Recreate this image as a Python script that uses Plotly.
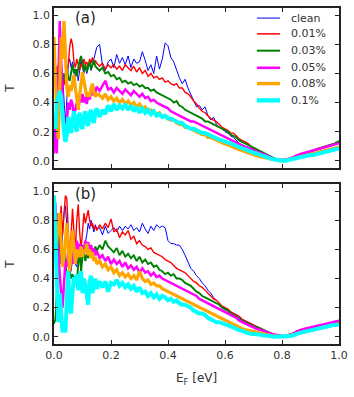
import plotly.graph_objects as go
from plotly.subplots import make_subplots

# Energy grid (eV)
E_low = [0.000, 0.005, 0.010, 0.015, 0.020, 0.025, 0.030, 0.035, 0.040, 0.045,
         0.050, 0.055, 0.060, 0.065, 0.070, 0.075, 0.080, 0.085, 0.090, 0.095,
         0.100, 0.105, 0.110, 0.115, 0.120, 0.125, 0.130, 0.135, 0.140, 0.145, 0.150]
E_high = [0.16, 0.17, 0.18, 0.19, 0.20, 0.21, 0.22, 0.23, 0.24, 0.25,
          0.26, 0.27, 0.28, 0.29, 0.30, 0.31, 0.32, 0.33, 0.34, 0.35,
          0.36, 0.37, 0.38, 0.39, 0.40, 0.41, 0.42, 0.43, 0.44, 0.45,
          0.46, 0.47, 0.48, 0.49, 0.50, 0.51, 0.52, 0.53, 0.54, 0.55,
          0.56, 0.57, 0.58, 0.59, 0.60, 0.61, 0.62, 0.63, 0.64, 0.65,
          0.66, 0.67, 0.68, 0.69, 0.70, 0.71, 0.72, 0.73, 0.74, 0.75,
          0.76, 0.77, 0.78, 0.79, 0.80, 0.81, 0.82, 0.83, 0.84, 0.85,
          0.86, 0.87, 0.88, 0.89, 0.90, 0.91, 0.92, 0.93, 0.94, 0.95,
          0.96, 0.97, 0.98, 0.99, 1.00]
E = E_low + E_high

series_names = ["clean", "0.01%", "0.03%", "0.05%", "0.08%", "0.1%"]

# ---------------- panel (a) ----------------
a_clean = [0.55, 0.62, 0.48, 0.66, 0.58, 0.45, 0.60, 0.40, 0.25, 0.42,
           0.66, 0.70, 0.64, 0.68, 0.62, 0.58, 0.63, 0.55, 0.62, 0.70,
           0.64, 0.60, 0.66, 0.60, 0.64, 0.68, 0.62, 0.66, 0.70, 0.74, 0.78,
           0.80, 0.66, 0.62, 0.68, 0.70, 0.64, 0.73, 0.67, 0.71, 0.66,
           0.72, 0.64, 0.70, 0.67, 0.68, 0.75, 0.69, 0.62, 0.66, 0.60,
           0.72, 0.63, 0.70, 0.81, 0.79, 0.71, 0.68, 0.62, 0.57, 0.53,
           0.56, 0.50, 0.46, 0.41, 0.37, 0.38, 0.35, 0.37, 0.31, 0.28,
           0.30, 0.25, 0.23, 0.22, 0.20, 0.19, 0.17, 0.16, 0.14, 0.12,
           0.11, 0.10, 0.09, 0.08, 0.07, 0.06, 0.05, 0.045, 0.035, 0.03,
           0.02, 0.01, 0.005, 0.005, 0.0, 0.005, 0.005, 0.01, 0.02, 0.03,
           0.035, 0.04, 0.05, 0.055, 0.06, 0.065, 0.075, 0.08, 0.085, 0.09,
           0.095, 0.10, 0.11, 0.115, 0.12]
a_001 = [0.60, 0.55, 0.65, 0.58, 0.62, 0.55, 0.60, 0.52, 0.58, 0.62,
         0.66, 0.78, 0.84, 0.80, 0.68, 0.64, 0.70, 0.66, 0.62, 0.67,
         0.64, 0.70, 0.66, 0.68, 0.64, 0.70, 0.67, 0.71, 0.66, 0.69, 0.67,
         0.65, 0.67, 0.63, 0.66, 0.64, 0.66, 0.63, 0.65, 0.62, 0.66,
         0.64, 0.62, 0.65, 0.61, 0.64, 0.60, 0.62, 0.58, 0.60, 0.57,
         0.58, 0.56, 0.57, 0.54, 0.55, 0.53, 0.52, 0.53, 0.50, 0.50,
         0.47, 0.46, 0.44, 0.41, 0.39, 0.36, 0.34, 0.33, 0.31, 0.29,
         0.28, 0.27, 0.25, 0.23, 0.22, 0.21, 0.19, 0.19, 0.17, 0.15,
         0.14, 0.13, 0.12, 0.10, 0.08, 0.07, 0.06, 0.05, 0.04, 0.03,
         0.025, 0.015, 0.01, 0.005, 0.005, 0.0, 0.01, 0.02, 0.025, 0.035,
         0.04, 0.045, 0.05, 0.06, 0.065, 0.07, 0.075, 0.08, 0.085, 0.09,
         0.10, 0.105, 0.11, 0.12, 0.125]
a_003 = [0.58, 0.62, 0.55, 0.60, 0.64, 0.58, 0.54, 0.60, 0.56, 0.62,
         0.57, 0.55, 0.62, 0.66, 0.60, 0.63, 0.58, 0.65, 0.69, 0.72,
         0.66, 0.62, 0.66, 0.61, 0.65, 0.68, 0.63, 0.67, 0.69, 0.65, 0.64,
         0.62, 0.64, 0.60, 0.61, 0.58, 0.59, 0.56, 0.57, 0.54, 0.55,
         0.53, 0.54, 0.52, 0.53, 0.51, 0.52, 0.50, 0.50, 0.48, 0.49,
         0.47, 0.46, 0.45, 0.44, 0.43, 0.42, 0.40, 0.41, 0.38, 0.37,
         0.35, 0.34, 0.33, 0.32, 0.31, 0.30, 0.29, 0.27, 0.27, 0.26,
         0.25, 0.24, 0.23, 0.22, 0.21, 0.20, 0.18, 0.17, 0.16, 0.14,
         0.13, 0.12, 0.11, 0.10, 0.085, 0.075, 0.065, 0.055, 0.05, 0.04,
         0.03, 0.02, 0.01, 0.005, 0.005, 0.005, 0.01, 0.015, 0.02, 0.03,
         0.04, 0.045, 0.055, 0.06, 0.065, 0.07, 0.08, 0.085, 0.09, 0.10,
         0.105, 0.11, 0.115, 0.125, 0.135]
a_005 = [0.05, 0.30, 0.05, 0.60, 0.96, 0.70, 0.40, 0.20, 0.13, 0.28,
         0.40, 0.35, 0.42, 0.39, 0.30, 0.35, 0.40, 0.35, 0.44, 0.40,
         0.46, 0.40, 0.44, 0.39, 0.45, 0.42, 0.48, 0.45, 0.50, 0.47, 0.51,
         0.48, 0.52, 0.55, 0.49, 0.50, 0.47, 0.50, 0.48, 0.46, 0.49,
         0.47, 0.45, 0.48, 0.46, 0.44, 0.46, 0.43, 0.44, 0.41, 0.42,
         0.40, 0.39, 0.38, 0.37, 0.36, 0.34, 0.33, 0.32, 0.31, 0.30,
         0.29, 0.28, 0.27, 0.27, 0.26, 0.25, 0.24, 0.23, 0.22, 0.21,
         0.20, 0.19, 0.18, 0.17, 0.16, 0.15, 0.14, 0.13, 0.12, 0.11,
         0.10, 0.095, 0.09, 0.08, 0.07, 0.06, 0.055, 0.05, 0.04, 0.03,
         0.025, 0.015, 0.01, 0.005, 0.005, 0.005, 0.01, 0.02, 0.025, 0.035,
         0.045, 0.05, 0.055, 0.06, 0.065, 0.075, 0.08, 0.085, 0.09, 0.095,
         0.10, 0.105, 0.11, 0.115, 0.12]
a_008 = [0.85, 0.55, 0.30, 0.15, 0.60, 0.85, 0.70, 0.96, 0.75, 0.50,
         0.44, 0.52, 0.48, 0.55, 0.59, 0.50, 0.42, 0.35, 0.45, 0.55,
         0.61, 0.55, 0.48, 0.44, 0.47, 0.44, 0.50, 0.53, 0.47, 0.44, 0.46,
         0.45, 0.43, 0.46, 0.42, 0.44, 0.41, 0.43, 0.40, 0.42, 0.39,
         0.41, 0.38, 0.40, 0.37, 0.39, 0.36, 0.37, 0.34, 0.35, 0.33,
         0.32, 0.33, 0.30, 0.31, 0.29, 0.28, 0.28, 0.26, 0.25, 0.25,
         0.23, 0.23, 0.22, 0.21, 0.20, 0.19, 0.18, 0.18, 0.16, 0.16,
         0.15, 0.14, 0.13, 0.12, 0.115, 0.11, 0.10, 0.09, 0.085, 0.075,
         0.07, 0.06, 0.055, 0.05, 0.04, 0.035, 0.03, 0.025, 0.02, 0.015,
         0.01, 0.005, 0.005, 0.0, 0.0, 0.0, 0.005, 0.01, 0.015, 0.02,
         0.025, 0.03, 0.035, 0.04, 0.045, 0.05, 0.055, 0.06, 0.065, 0.07,
         0.075, 0.08, 0.085, 0.09, 0.095]
a_01 = [0.30, 0.22, 0.40, 0.46, 0.48, 0.44, 0.30, 0.20, 0.13, 0.18,
        0.30, 0.22, 0.19, 0.28, 0.34, 0.24, 0.20, 0.30, 0.33, 0.24,
        0.22, 0.31, 0.34, 0.26, 0.24, 0.32, 0.35, 0.28, 0.26, 0.33, 0.36,
        0.30, 0.35, 0.32, 0.38, 0.34, 0.39, 0.35, 0.38, 0.36, 0.39,
        0.35, 0.38, 0.34, 0.37, 0.33, 0.36, 0.33, 0.35, 0.32, 0.34,
        0.31, 0.32, 0.30, 0.31, 0.29, 0.29, 0.28, 0.27, 0.26, 0.26,
        0.24, 0.23, 0.22, 0.22, 0.21, 0.20, 0.19, 0.19, 0.18, 0.17,
        0.165, 0.155, 0.145, 0.14, 0.13, 0.125, 0.12, 0.11, 0.10, 0.095,
        0.085, 0.08, 0.07, 0.06, 0.055, 0.05, 0.04, 0.035, 0.03, 0.02,
        0.015, 0.01, 0.005, 0.0, 0.0, 0.0, 0.005, 0.005, 0.01, 0.015,
        0.02, 0.025, 0.03, 0.035, 0.04, 0.04, 0.045, 0.05, 0.055, 0.06,
        0.065, 0.07, 0.075, 0.08, 0.085]

# ---------------- panel (b) ----------------
b_clean = [0.60, 0.70, 0.55, 0.80, 0.65, 0.50, 0.70, 0.85, 0.90, 0.78,
           0.60, 0.50, 0.45, 0.55, 0.62, 0.50, 0.48, 0.55, 0.60, 0.58,
           0.63, 0.60, 0.64, 0.70, 0.78, 0.74, 0.80, 0.76, 0.72, 0.77, 0.74,
           0.75, 0.70, 0.76, 0.71, 0.73, 0.75, 0.72, 0.76, 0.73, 0.76,
           0.74, 0.77, 0.73, 0.75, 0.72, 0.78, 0.74, 0.71, 0.76, 0.73,
           0.77, 0.75, 0.76, 0.75, 0.66, 0.64, 0.64, 0.63, 0.63, 0.60,
           0.56, 0.52, 0.47, 0.45, 0.42, 0.40, 0.37, 0.35, 0.32, 0.30,
           0.27, 0.25, 0.23, 0.21, 0.19, 0.18, 0.17, 0.16, 0.15, 0.13,
           0.12, 0.11, 0.10, 0.09, 0.08, 0.07, 0.06, 0.05, 0.04, 0.03,
           0.02, 0.01, 0.01, 0.005, 0.005, 0.005, 0.01, 0.01, 0.01, 0.04,
           0.045, 0.05, 0.055, 0.06, 0.065, 0.07, 0.075, 0.08, 0.085, 0.09,
           0.095, 0.10, 0.10, 0.105, 0.11]
b_001 = [0.55, 0.70, 0.85, 0.60, 0.75, 0.90, 0.70, 0.88, 0.97, 0.95,
         0.70, 0.52, 0.70, 0.88, 0.72, 0.60, 0.80, 0.91, 0.72, 0.60,
         0.72, 0.85, 0.78, 0.84, 0.87, 0.80, 0.76, 0.78, 0.74, 0.76, 0.73,
         0.77, 0.74, 0.78, 0.75, 0.81, 0.72, 0.74, 0.68, 0.72, 0.70,
         0.73, 0.67, 0.69, 0.64, 0.66, 0.63, 0.62, 0.60, 0.61, 0.58,
         0.57, 0.56, 0.55, 0.53, 0.52, 0.51, 0.49, 0.47, 0.46, 0.45,
         0.44, 0.42, 0.40, 0.38, 0.37, 0.35, 0.34, 0.32, 0.30, 0.28,
         0.26, 0.25, 0.23, 0.21, 0.20, 0.19, 0.17, 0.16, 0.15, 0.14,
         0.12, 0.11, 0.10, 0.09, 0.08, 0.07, 0.06, 0.05, 0.04, 0.03,
         0.02, 0.015, 0.01, 0.005, 0.005, 0.005, 0.01, 0.015, 0.02, 0.03,
         0.04, 0.045, 0.05, 0.055, 0.06, 0.065, 0.07, 0.075, 0.08, 0.085,
         0.09, 0.095, 0.10, 0.105, 0.11]
b_003 = [0.09, 0.12, 0.30, 0.55, 0.70, 0.64, 0.48, 0.60, 0.52, 0.42,
         0.39, 0.45, 0.40, 0.43, 0.37, 0.42, 0.38, 0.50, 0.60, 0.45,
         0.55, 0.58, 0.52, 0.57, 0.54, 0.59, 0.56, 0.60, 0.57, 0.62, 0.59,
         0.63, 0.60, 0.66, 0.62, 0.60, 0.58, 0.61, 0.56, 0.59, 0.55,
         0.57, 0.54, 0.56, 0.52, 0.55, 0.51, 0.53, 0.50, 0.51, 0.48,
         0.49, 0.46, 0.45, 0.43, 0.44, 0.42, 0.43, 0.40, 0.40, 0.39,
         0.37, 0.36, 0.35, 0.33, 0.31, 0.30, 0.28, 0.27, 0.26, 0.25,
         0.24, 0.23, 0.22, 0.20, 0.19, 0.18, 0.16, 0.15, 0.14, 0.12,
         0.11, 0.10, 0.09, 0.08, 0.07, 0.065, 0.06, 0.05, 0.045, 0.035,
         0.025, 0.015, 0.01, 0.005, 0.005, 0.005, 0.01, 0.015, 0.02, 0.03,
         0.04, 0.045, 0.05, 0.055, 0.06, 0.065, 0.07, 0.075, 0.08, 0.085,
         0.09, 0.095, 0.10, 0.10, 0.105]
b_005 = [0.97, 0.90, 0.70, 0.55, 0.45, 0.30, 0.20, 0.34, 0.52, 0.48,
         0.60, 0.52, 0.56, 0.50, 0.62, 0.58, 0.66, 0.60, 0.64, 0.58,
         0.62, 0.60, 0.66, 0.62, 0.65, 0.60, 0.63, 0.58, 0.61, 0.56, 0.59,
         0.54, 0.56, 0.52, 0.55, 0.50, 0.53, 0.50, 0.52, 0.48, 0.51,
         0.47, 0.49, 0.46, 0.48, 0.44, 0.47, 0.44, 0.45, 0.42, 0.44,
         0.41, 0.42, 0.40, 0.39, 0.38, 0.37, 0.36, 0.35, 0.34, 0.33,
         0.32, 0.31, 0.30, 0.29, 0.28, 0.26, 0.25, 0.24, 0.23, 0.22,
         0.21, 0.20, 0.19, 0.18, 0.17, 0.16, 0.15, 0.14, 0.13, 0.11,
         0.10, 0.09, 0.08, 0.07, 0.06, 0.055, 0.05, 0.045, 0.04, 0.03,
         0.02, 0.015, 0.01, 0.005, 0.005, 0.005, 0.01, 0.015, 0.02, 0.035,
         0.045, 0.05, 0.055, 0.06, 0.065, 0.07, 0.075, 0.08, 0.085, 0.09,
         0.095, 0.10, 0.105, 0.11, 0.11]
b_008 = [0.70, 0.60, 0.66, 0.75, 0.85, 0.65, 0.48, 0.55, 0.70, 0.78,
         0.60, 0.45, 0.60, 0.73, 0.62, 0.50, 0.60, 0.56, 0.55, 0.62,
         0.55, 0.60, 0.58, 0.64, 0.56, 0.60, 0.54, 0.58, 0.52, 0.55, 0.50,
         0.52, 0.48, 0.50, 0.46, 0.48, 0.44, 0.46, 0.42, 0.44, 0.41,
         0.43, 0.40, 0.42, 0.39, 0.45, 0.40, 0.38, 0.39, 0.36, 0.37,
         0.35, 0.35, 0.33, 0.32, 0.31, 0.30, 0.29, 0.28, 0.27, 0.26,
         0.25, 0.24, 0.23, 0.22, 0.21, 0.20, 0.19, 0.18, 0.17, 0.16,
         0.15, 0.14, 0.13, 0.12, 0.11, 0.10, 0.09, 0.08, 0.07, 0.06,
         0.055, 0.05, 0.045, 0.04, 0.035, 0.03, 0.025, 0.02, 0.02, 0.015,
         0.01, 0.005, 0.005, 0.0, 0.0, 0.0, 0.005, 0.005, 0.01, 0.02,
         0.025, 0.03, 0.035, 0.04, 0.045, 0.05, 0.055, 0.06, 0.065, 0.07,
         0.075, 0.08, 0.085, 0.085, 0.09]
b_01 = [0.97, 0.70, 0.35, 0.10, 0.30, 0.15, 0.03, 0.10, 0.03, 0.25,
        0.45, 0.20, 0.16, 0.30, 0.41, 0.36, 0.43, 0.32, 0.38, 0.45,
        0.30, 0.40, 0.35, 0.30, 0.22, 0.38, 0.42, 0.30, 0.36, 0.40, 0.33,
        0.38, 0.34, 0.38, 0.31, 0.37, 0.36, 0.39, 0.35, 0.37, 0.34,
        0.36, 0.33, 0.35, 0.31, 0.34, 0.30, 0.31, 0.28, 0.30, 0.27,
        0.29, 0.26, 0.28, 0.27, 0.25, 0.26, 0.24, 0.25, 0.23, 0.22,
        0.22, 0.21, 0.20, 0.18, 0.17, 0.16, 0.16, 0.15, 0.13, 0.12,
        0.11, 0.10, 0.10, 0.09, 0.085, 0.08, 0.07, 0.06, 0.055, 0.045,
        0.04, 0.03, 0.025, 0.02, 0.02, 0.015, 0.015, 0.01, 0.01, 0.005,
        0.005, 0.0, 0.0, 0.0, 0.0, 0.0, 0.0, 0.005, 0.01, 0.02,
        0.025, 0.03, 0.035, 0.04, 0.045, 0.05, 0.05, 0.055, 0.06, 0.065,
        0.07, 0.075, 0.08, 0.08, 0.085]

panel_a = [a_clean, a_001, a_003, a_005, a_008, a_01]
panel_b = [b_clean, b_001, b_003, b_005, b_008, b_01]

colors = ["#0000ff", "#ff0000", "#008000", "#ff00ff", "#ffa500", "#00ffff"]
widths = [1.0, 1.4, 1.9, 2.5, 3.2, 4.0]

x_ticks = [0.0, 0.2, 0.4, 0.6, 0.8, 1.0]
y_ticks = [0.0, 0.2, 0.4, 0.6, 0.8, 1.0]
tick_text = ["0.0", "0.2", "0.4", "0.6", "0.8", "1.0"]

fig = make_subplots(rows=2, cols=1, shared_xaxes=False, vertical_spacing=0.0474)

for row, panel in ((1, panel_a), (2, panel_b)):
    for name, ys, c, w in zip(series_names, panel, colors, widths):
        fig.add_trace(go.Scatter(x=E, y=ys, mode="lines", name=name,
                                 line=dict(color=c, width=w),
                                 showlegend=False, hoverinfo="skip"), row=row, col=1)

common = dict(ticks="inside", ticklen=4, tickwidth=1, tickcolor="#222",
              showline=True, linecolor="#222", linewidth=1.5, mirror="ticks",
              showgrid=False, zeroline=False,
              tickfont=dict(family="DejaVu Sans", size=11, color="#333"))

fig.update_xaxes(range=[0, 1.0], tickvals=x_ticks, ticktext=tick_text, **common)
fig.update_xaxes(showticklabels=False, row=1, col=1)
fig.update_yaxes(range=[-0.05, 1.05], tickvals=y_ticks, ticktext=tick_text, **common)

# Legend drawn in the upper panel
legend_y = [0.970, 0.923, 0.873, 0.822, 0.775, 0.725]
legend_w = [1.0, 1.5, 2.0, 2.6, 3.4, 4.4]
for name, c, w, yy in zip(series_names, colors, legend_w, legend_y):
    fig.add_shape(type="line", xref="paper", yref="paper", x0=0.712, x1=0.793,
                  y0=yy, y1=yy, line=dict(color=c, width=w))
    fig.add_annotation(xref="paper", yref="paper", x=0.825, y=yy, text=name,
                       showarrow=False, xanchor="left", yanchor="middle",
                       font=dict(family="DejaVu Sans", size=11, color="#333"))

fig.add_annotation(xref="x domain", yref="y domain", x=0.066, y=0.94, text="(a)",
                   showarrow=False, xanchor="left", yanchor="middle",
                   font=dict(family="DejaVu Sans", size=15, color="#222"))
fig.add_annotation(xref="x2 domain", yref="y2 domain", x=0.066, y=0.94, text="(b)",
                   showarrow=False, xanchor="left", yanchor="middle",
                   font=dict(family="DejaVu Sans", size=15, color="#222"))
for yy in (0.762, 0.238):
    fig.add_annotation(xref="paper", yref="paper", x=-0.155, y=yy, text="T",
                       showarrow=False, textangle=-90, xanchor="center", yanchor="middle",
                       font=dict(family="DejaVu Sans", size=12, color="#333"))
fig.add_annotation(xref="paper", yref="paper", x=0.5, y=-0.105, text="E<sub>F</sub> [eV]",
                   showarrow=False, xanchor="center", yanchor="middle",
                   font=dict(family="DejaVu Sans", size=12, color="#333"))

fig.update_layout(width=354, height=397, margin=dict(l=54, r=15, t=6, b=53),
                  plot_bgcolor="white", paper_bgcolor="white", showlegend=False,
                  hovermode=False)

fig.write_html("out.html", config={"displayModeBar": False},
               post_script="document.body.style.margin='0';document.body.style.padding='0';")
